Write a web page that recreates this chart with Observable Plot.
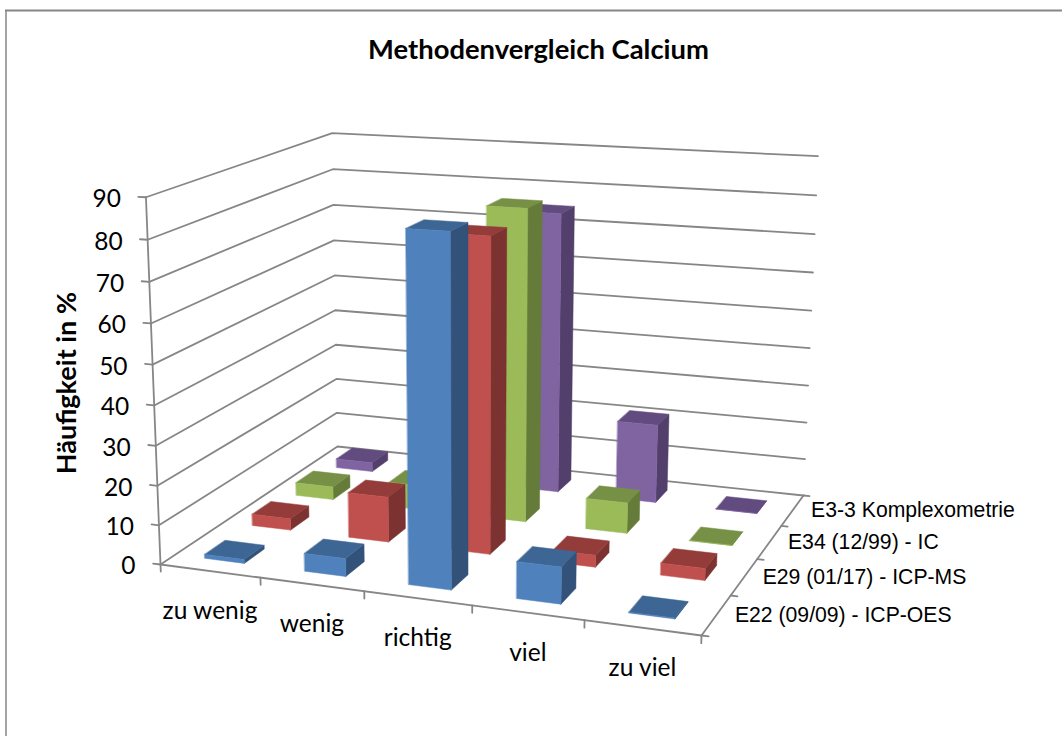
<!DOCTYPE html>
<html lang="de">
<head>
<meta charset="utf-8">
<script src="https://cdn.jsdelivr.net/npm/d3@7"></script>
<script src="https://cdn.jsdelivr.net/npm/@observablehq/plot@0.6"></script>
<style>
html,body{margin:0;padding:0;background:#fff;}
svg{display:block;}
</style>
</head>
<body>
<div id="chart"></div>
<script>
const title = "Methodenvergleich Calcium";
const yTitle = "Häufigkeit in %";
const categories = ["zu wenig", "wenig", "richtig", "viel", "zu viel"];
const seriesNames = ["E22 (09/09) - ICP-OES", "E29 (01/17) - ICP-MS", "E34 (12/99) - IC", "E3-3 Komplexometrie"];
const e22Values = [1, 4.5, 85, 9, 0.2];
const e29Values = [3, 11.7, 79, 3, 3];
const e34Values = [3.5, 6.5, 81, 8, 0];
const e33Values = [2.5, 3, 75, 21, 0];
const seriesValues = [e22Values, e29Values, e34Values, e33Values];
const yTicks = [0, 10, 20, 30, 40, 50, 60, 70, 80, 90];
const yMax = 90;
const frontColors = ["#4F81BD", "#C0504D", "#9BBB59", "#8064A2"];
const topColors = ["#3D6695", "#943C3A", "#769045", "#624B7E"];
const sideColors = ["#32527A", "#7C3230", "#657B3A", "#533F6B"];
const gridColor = "#868686";

// perspective camera: u along categories, v along series (front to back), w height
const cam = {ax: 475.36, bx: 238.1, ay: 11.54, by: -37.1, x0: 160, y0: 564, g: -0.09364, h: 0.18144, k: -0.045, cx: -21.1, cy: -376.1};
function project(u, v, w) {
  const d = 1 + cam.g * u + cam.h * v + cam.k * w;
  return {
    px: (cam.x0 + cam.ax * u + cam.bx * v + cam.cx * w) / d,
    py: (cam.y0 + cam.ay * u + cam.by * v + cam.cy * w) / d
  };
}
const barU = 0.4 / categories.length;
const barV = 0.42 / seriesNames.length;

// bar faces, painted back to front, left to right
const faces = [];
for (let s = seriesNames.length - 1; s >= 0; s--) {
  categories.forEach((cat, c) => {
    const u0 = (c + 0.5) / categories.length - barU / 2, u1 = u0 + barU;
    const v0 = (s + 0.5) / seriesNames.length - barV / 2, v1 = v0 + barV;
    const w = seriesValues[s][c] / yMax;
    const add = (name, color, pts) => pts.forEach(p => faces.push({...project(...p), face: `${s}-${c}-${name}`, color}));
    add("side", sideColors[s], [[u1, v0, 0], [u1, v1, 0], [u1, v1, w], [u1, v0, w]]);
    add("top", topColors[s], [[u0, v0, w], [u1, v0, w], [u1, v1, w], [u0, v1, w]]);
    add("front", frontColors[s], [[u0, v0, 0], [u1, v0, 0], [u1, v0, w], [u0, v0, w]]);
  });
}

// walls and axes
const lines = [];
const addLine = (id, pts) => pts.forEach(p => lines.push({...project(...p), id}));
yTicks.forEach(t => {
  const w = t / yMax;
  addLine(`g${t}`, [[0, 0, w], [0, 1, w], [1, 1, w]]);
  addLine(`t${t}`, [[-0.015, 0, w], [0, 0, w]]);
});
addLine("axisY", [[0, 0, 0], [0, 0, 1]]);
addLine("axisX", [[0, 0, 0], [1, 0, 0]]);
addLine("axisZ", [[1, 0, 0], [1, 1, 0]]);
d3.range(categories.length + 1).forEach(i => addLine(`x${i}`, [[i / categories.length, 0, 0], [i / categories.length, 0, -0.02]]));
d3.range(seriesNames.length + 1).forEach(i => addLine(`z${i}`, [[1, i / seriesNames.length, 0], [1.012, i / seriesNames.length, 0]]));

const catLabels = categories.map((label, c) => ({...project((c + 0.5) / categories.length, 0, 0), label}));
const serLabels = seriesNames.map((label, s) => ({...project(1, (s + 0.5) / seriesNames.length, 0), label}));
const yLabels = yTicks.map(t => ({...project(0, 0, t / yMax), label: String(t)}));
const yTitleAnchor = project(0, 0, 0.5);

const sans = "Lato, 'Open Sans', sans-serif";
const chart = Plot.plot({
  width: 1062,
  height: 736,
  margin: 0,
  style: {background: "#fff"},
  x: {domain: [0, 1062], range: [0, 1062], axis: null},
  y: {domain: [0, 736], range: [0, 736], axis: null},
  marks: [
    Plot.ruleY([10], {x1: 5, x2: 1062, stroke: "#868686", strokeWidth: 2}),
    Plot.ruleX([5.5], {y1: 10, y2: 736, stroke: "#868686", strokeWidth: 1.5}),
    Plot.line(lines, {x: "px", y: "py", z: "id", stroke: gridColor, strokeWidth: 1.8}),
    Plot.line(faces, {x: "px", y: "py", z: "face", fill: "color", stroke: "color", strokeWidth: 0.5, curve: "linear-closed"}),
    Plot.text([title], {frameAnchor: "top", dx: 7, dy: 50, lineAnchor: "middle", fontFamily: sans, fontWeight: 700, fontSize: 27.4, fill: "#000"}),
    Plot.text([yTitleAnchor], {x: "px", y: "py", text: () => yTitle, dx: -86, dy: -2, rotate: -90, fontFamily: sans, fontWeight: 700, fontSize: 27, fill: "#000"}),
    Plot.text(yLabels, {x: "px", y: "py", text: "label", textAnchor: "end", dx: -25, dy: 2, fontFamily: sans, fontSize: 24.5, fill: "#000"}),
    Plot.text(catLabels, {x: "px", y: "py", text: "label", dy: 40, fontFamily: sans, fontSize: 24.5, fill: "#000"}),
    Plot.text(serLabels, {x: "px", y: "py", text: "label", textAnchor: "start", dx: 18.5, fontFamily: "'Liberation Sans', Arial, sans-serif", fontSize: 21.2, fill: "#000"})
  ]
});
document.getElementById("chart").append(chart);
</script>
</body>
</html>
